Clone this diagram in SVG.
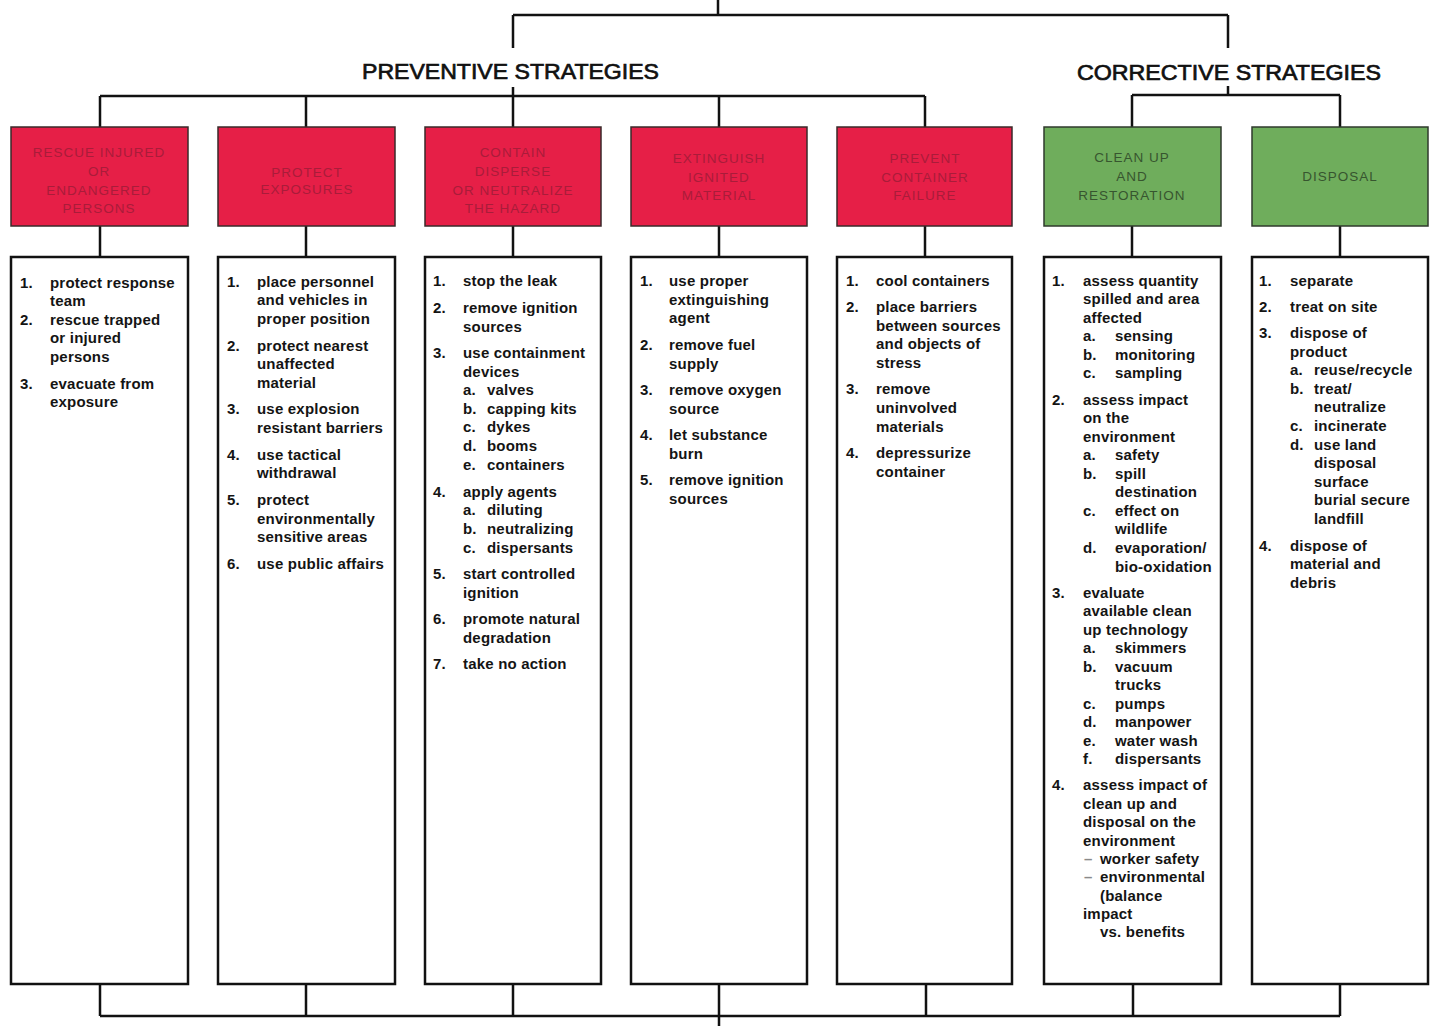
<svg xmlns="http://www.w3.org/2000/svg" width="1430" height="1026" viewBox="0 0 1430 1026">
  <style>
    .bg { fill: #ffffff; }
    .wire { fill: none; stroke: #111; stroke-width: 2.5; }
    .hdr-red { fill: #e61f47; stroke: #3a2a2a; stroke-width: 1.5; }
    .hdr-green { fill: #6fad5c; stroke: #2f3a2c; stroke-width: 1.5; }
    .list { fill: #ffffff; stroke: #111; stroke-width: 2.5; }
    .title { font-family: "Liberation Sans", Arial, sans-serif; font-size: 22.5px; font-weight: normal; fill: #111; stroke: #111; stroke-width: 0.7; }
    .ht { font-family: "Liberation Sans", Arial, sans-serif; font-size: 13.5px; letter-spacing: 1px; text-anchor: middle; }
    .ht-red { fill: #a91c3a; }
    .ht-green { fill: #37552f; }
    .t { font-family: "Liberation Sans", Arial, sans-serif; font-size: 15px; font-weight: bold; letter-spacing: 0.2px; fill: #141414; }
    .dash { fill: #8a8a8a; }
  </style>

  <rect class="bg" x="0" y="0" width="1430" height="1026"/>

  <!-- tree lines linking the strategy groups and the columns -->
  <g id="connectors" class="wire">
    <path d="M718 0 V15 M513 15 H1228 M513 15 V48 M1228 15 V48"/>
    <path d="M513 87 V96 M100 96 H925 M100 96 V127 M306 96 V127 M513 96 V127 M719 96 V127 M925 96 V127"/>
    <path d="M1228 86 V95 M1132 95 H1340 M1132 95 V127 M1340 95 V127"/>
    <path d="M100 226 V257 M306 226 V257 M513 226 V257 M719 226 V257 M925 226 V257 M1132 226 V257 M1340 226 V257"/>
    <path d="M100 984 V1016 M306 984 V1016 M513 984 V1016 M926 984 V1016 M1133 984 V1016 M1340 984 V1016 M100 1016 H1340 M719 984 V1026"/>
  </g>

  <g id="preventive-title">
    <text class="title" x="362" y="79" textLength="297" lengthAdjust="spacingAndGlyphs">PREVENTIVE STRATEGIES</text>
  </g>
  <g id="corrective-title">
    <text class="title" x="1077" y="80" textLength="304" lengthAdjust="spacingAndGlyphs">CORRECTIVE STRATEGIES</text>
  </g>

  <!-- column 1 -->
  <g id="rescue">
    <rect class="hdr-red" x="11" y="127" width="177" height="99"/>
    <text class="ht ht-red" x="99" y="157">RESCUE INJURED</text>
    <text class="ht ht-red" x="99" y="176">OR</text>
    <text class="ht ht-red" x="99" y="195">ENDANGERED</text>
    <text class="ht ht-red" x="99" y="213">PERSONS</text>
    <rect class="list" x="11" y="257" width="177" height="727"/>
    <text class="t" x="20" y="288">1.</text><text class="t" x="50" y="288">protect response</text>
    <text class="t" x="50" y="306">team</text>
    <text class="t" x="20" y="325">2.</text><text class="t" x="50" y="325">rescue trapped</text>
    <text class="t" x="50" y="343">or injured</text>
    <text class="t" x="50" y="362">persons</text>
    <text class="t" x="20" y="389">3.</text><text class="t" x="50" y="389">evacuate from</text>
    <text class="t" x="50" y="407">exposure</text>
  </g>

  <!-- column 2 -->
  <g id="protect-exposures">
    <rect class="hdr-red" x="218" y="127" width="177" height="99"/>
    <text class="ht ht-red" x="307" y="177">PROTECT</text>
    <text class="ht ht-red" x="307" y="194">EXPOSURES</text>
    <rect class="list" x="218" y="257" width="177" height="727"/>
    <text class="t" x="227" y="287">1.</text><text class="t" x="257" y="287">place personnel</text>
    <text class="t" x="257" y="305">and vehicles in</text>
    <text class="t" x="257" y="324">proper position</text>
    <text class="t" x="227" y="351">2.</text><text class="t" x="257" y="351">protect nearest</text>
    <text class="t" x="257" y="369">unaffected</text>
    <text class="t" x="257" y="388">material</text>
    <text class="t" x="227" y="414">3.</text><text class="t" x="257" y="414">use explosion</text>
    <text class="t" x="257" y="433">resistant barriers</text>
    <text class="t" x="227" y="460">4.</text><text class="t" x="257" y="460">use tactical</text>
    <text class="t" x="257" y="478">withdrawal</text>
    <text class="t" x="227" y="505">5.</text><text class="t" x="257" y="505">protect</text>
    <text class="t" x="257" y="524">environmentally</text>
    <text class="t" x="257" y="542">sensitive areas</text>
    <text class="t" x="227" y="569">6.</text><text class="t" x="257" y="569">use public affairs</text>
  </g>

  <!-- column 3 -->
  <g id="contain">
    <rect class="hdr-red" x="425" y="127" width="176" height="99"/>
    <text class="ht ht-red" x="513" y="157">CONTAIN</text>
    <text class="ht ht-red" x="513" y="176">DISPERSE</text>
    <text class="ht ht-red" x="513" y="195">OR NEUTRALIZE</text>
    <text class="ht ht-red" x="513" y="213">THE HAZARD</text>
    <rect class="list" x="425" y="257" width="176" height="727"/>
    <text class="t" x="433" y="286">1.</text><text class="t" x="463" y="286">stop the leak</text>
    <text class="t" x="433" y="313">2.</text><text class="t" x="463" y="313">remove ignition</text>
    <text class="t" x="463" y="332">sources</text>
    <text class="t" x="433" y="358">3.</text><text class="t" x="463" y="358">use containment</text>
    <text class="t" x="463" y="377">devices</text>
    <text class="t" x="463" y="395">a.</text><text class="t" x="487" y="395">valves</text>
    <text class="t" x="463" y="414">b.</text><text class="t" x="487" y="414">capping kits</text>
    <text class="t" x="463" y="432">c.</text><text class="t" x="487" y="432">dykes</text>
    <text class="t" x="463" y="451">d.</text><text class="t" x="487" y="451">booms</text>
    <text class="t" x="463" y="470">e.</text><text class="t" x="487" y="470">containers</text>
    <text class="t" x="433" y="497">4.</text><text class="t" x="463" y="497">apply agents</text>
    <text class="t" x="463" y="515">a.</text><text class="t" x="487" y="515">diluting</text>
    <text class="t" x="463" y="534">b.</text><text class="t" x="487" y="534">neutralizing</text>
    <text class="t" x="463" y="553">c.</text><text class="t" x="487" y="553">dispersants</text>
    <text class="t" x="433" y="579">5.</text><text class="t" x="463" y="579">start controlled</text>
    <text class="t" x="463" y="598">ignition</text>
    <text class="t" x="433" y="624">6.</text><text class="t" x="463" y="624">promote natural</text>
    <text class="t" x="463" y="643">degradation</text>
    <text class="t" x="433" y="669">7.</text><text class="t" x="463" y="669">take no action</text>
  </g>

  <!-- column 4 -->
  <g id="extinguish">
    <rect class="hdr-red" x="631" y="127" width="176" height="99"/>
    <text class="ht ht-red" x="719" y="163">EXTINGUISH</text>
    <text class="ht ht-red" x="719" y="182">IGNITED</text>
    <text class="ht ht-red" x="719" y="200">MATERIAL</text>
    <rect class="list" x="631" y="257" width="176" height="727"/>
    <text class="t" x="640" y="286">1.</text><text class="t" x="669" y="286">use proper</text>
    <text class="t" x="669" y="305">extinguishing</text>
    <text class="t" x="669" y="323">agent</text>
    <text class="t" x="640" y="350">2.</text><text class="t" x="669" y="350">remove fuel</text>
    <text class="t" x="669" y="369">supply</text>
    <text class="t" x="640" y="395">3.</text><text class="t" x="669" y="395">remove oxygen</text>
    <text class="t" x="669" y="414">source</text>
    <text class="t" x="640" y="440">4.</text><text class="t" x="669" y="440">let substance</text>
    <text class="t" x="669" y="459">burn</text>
    <text class="t" x="640" y="485">5.</text><text class="t" x="669" y="485">remove ignition</text>
    <text class="t" x="669" y="504">sources</text>
  </g>

  <!-- column 5 -->
  <g id="prevent-failure">
    <rect class="hdr-red" x="837" y="127" width="175" height="99"/>
    <text class="ht ht-red" x="925" y="163">PREVENT</text>
    <text class="ht ht-red" x="925" y="182">CONTAINER</text>
    <text class="ht ht-red" x="925" y="200">FAILURE</text>
    <rect class="list" x="837" y="257" width="175" height="727"/>
    <text class="t" x="846" y="286">1.</text><text class="t" x="876" y="286">cool containers</text>
    <text class="t" x="846" y="312">2.</text><text class="t" x="876" y="312">place barriers</text>
    <text class="t" x="876" y="331">between sources</text>
    <text class="t" x="876" y="349">and objects of</text>
    <text class="t" x="876" y="368">stress</text>
    <text class="t" x="846" y="394">3.</text><text class="t" x="876" y="394">remove</text>
    <text class="t" x="876" y="413">uninvolved</text>
    <text class="t" x="876" y="432">materials</text>
    <text class="t" x="846" y="458">4.</text><text class="t" x="876" y="458">depressurize</text>
    <text class="t" x="876" y="477">container</text>
  </g>

  <!-- column 6 -->
  <g id="clean-up">
    <rect class="hdr-green" x="1044" y="127" width="177" height="99"/>
    <text class="ht ht-green" x="1132" y="162">CLEAN UP</text>
    <text class="ht ht-green" x="1132" y="181">AND</text>
    <text class="ht ht-green" x="1132" y="200">RESTORATION</text>
    <rect class="list" x="1044" y="257" width="177" height="727"/>
    <text class="t" x="1052" y="286">1.</text><text class="t" x="1083" y="286">assess quantity</text>
    <text class="t" x="1083" y="304">spilled and area</text>
    <text class="t" x="1083" y="323">affected</text>
    <text class="t" x="1083" y="341">a.</text><text class="t" x="1115" y="341">sensing</text>
    <text class="t" x="1083" y="360">b.</text><text class="t" x="1115" y="360">monitoring</text>
    <text class="t" x="1083" y="378">c.</text><text class="t" x="1115" y="378">sampling</text>
    <text class="t" x="1052" y="405">2.</text><text class="t" x="1083" y="405">assess impact</text>
    <text class="t" x="1083" y="423">on the</text>
    <text class="t" x="1083" y="442">environment</text>
    <text class="t" x="1083" y="460">a.</text><text class="t" x="1115" y="460">safety</text>
    <text class="t" x="1083" y="479">b.</text><text class="t" x="1115" y="479">spill</text>
    <text class="t" x="1115" y="497">destination</text>
    <text class="t" x="1083" y="516">c.</text><text class="t" x="1115" y="516">effect on</text>
    <text class="t" x="1115" y="534">wildlife</text>
    <text class="t" x="1083" y="553">d.</text><text class="t" x="1115" y="553">evaporation/</text>
    <text class="t" x="1115" y="572">bio-oxidation</text>
    <text class="t" x="1052" y="598">3.</text><text class="t" x="1083" y="598">evaluate</text>
    <text class="t" x="1083" y="616">available clean</text>
    <text class="t" x="1083" y="635">up technology</text>
    <text class="t" x="1083" y="653">a.</text><text class="t" x="1115" y="653">skimmers</text>
    <text class="t" x="1083" y="672">b.</text><text class="t" x="1115" y="672">vacuum</text>
    <text class="t" x="1115" y="690">trucks</text>
    <text class="t" x="1083" y="709">c.</text><text class="t" x="1115" y="709">pumps</text>
    <text class="t" x="1083" y="727">d.</text><text class="t" x="1115" y="727">manpower</text>
    <text class="t" x="1083" y="746">e.</text><text class="t" x="1115" y="746">water wash</text>
    <text class="t" x="1083" y="764">f.</text><text class="t" x="1115" y="764">dispersants</text>
    <text class="t" x="1052" y="790">4.</text><text class="t" x="1083" y="790">assess impact of</text>
    <text class="t" x="1083" y="809">clean up and</text>
    <text class="t" x="1083" y="827">disposal on the</text>
    <text class="t" x="1083" y="846">environment</text>
    <text class="t dash" x="1084" y="864">–</text><text class="t" x="1100" y="864">worker safety</text>
    <text class="t dash" x="1084" y="882">–</text><text class="t" x="1100" y="882">environmental</text>
    <text class="t" x="1100" y="901">(balance</text>
    <text class="t" x="1083" y="919">impact</text>
    <text class="t" x="1100" y="937">vs. benefits</text>
  </g>

  <!-- column 7 -->
  <g id="disposal">
    <rect class="hdr-green" x="1252" y="127" width="176" height="99"/>
    <text class="ht ht-green" x="1340" y="181">DISPOSAL</text>
    <rect class="list" x="1252" y="257" width="176" height="727"/>
    <text class="t" x="1259" y="286">1.</text><text class="t" x="1290" y="286">separate</text>
    <text class="t" x="1259" y="312">2.</text><text class="t" x="1290" y="312">treat on site</text>
    <text class="t" x="1259" y="338">3.</text><text class="t" x="1290" y="338">dispose of</text>
    <text class="t" x="1290" y="357">product</text>
    <text class="t" x="1290" y="375">a.</text><text class="t" x="1314" y="375">reuse/recycle</text>
    <text class="t" x="1290" y="394">b.</text><text class="t" x="1314" y="394">treat/</text>
    <text class="t" x="1314" y="412">neutralize</text>
    <text class="t" x="1290" y="431">c.</text><text class="t" x="1314" y="431">incinerate</text>
    <text class="t" x="1290" y="450">d.</text><text class="t" x="1314" y="450">use land</text>
    <text class="t" x="1314" y="468">disposal</text>
    <text class="t" x="1314" y="487">surface</text>
    <text class="t" x="1314" y="505">burial secure</text>
    <text class="t" x="1314" y="524">landfill</text>
    <text class="t" x="1259" y="551">4.</text><text class="t" x="1290" y="551">dispose of</text>
    <text class="t" x="1290" y="569">material and</text>
    <text class="t" x="1290" y="588">debris</text>
  </g>
</svg>
